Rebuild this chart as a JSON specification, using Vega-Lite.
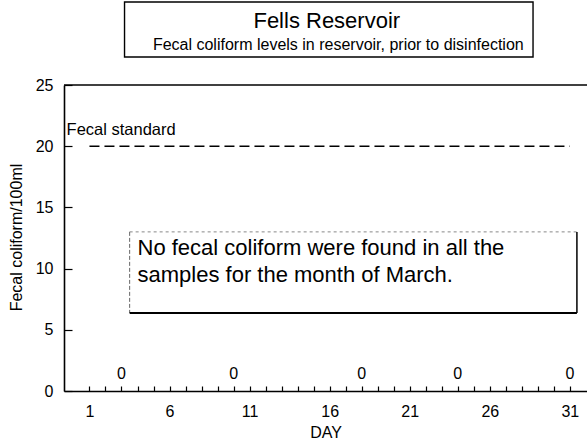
{
  "$schema": "https://vega.github.io/schema/vega-lite/v6.json",
  "width": 523,
  "height": 306,
  "autosize": {"type": "none"},
  "padding": {"left": 64, "top": 85, "right": 0, "bottom": 49},
  "background": "white",
  "config": {
    "view": {"stroke": null},
    "font": "Liberation Sans",
    "text": {"font": "Liberation Sans", "color": "black"},
    "axis": {
      "domainColor": "black",
      "domainWidth": 1.6,
      "tickColor": "black",
      "tickWidth": 1.2,
      "grid": false,
      "labelColor": "black",
      "titleColor": "black",
      "labelFont": "Liberation Sans",
      "titleFont": "Liberation Sans",
      "labelFontSize": 16,
      "titleFontSize": 16,
      "titleFontWeight": "normal"
    }
  },
  "datasets": {
    "samples": [
      {"day": 3, "count": 0},
      {"day": 10, "count": 0},
      {"day": 18, "count": 0},
      {"day": 24, "count": 0},
      {"day": 31, "count": 0}
    ],
    "standard": [
      {"day": 1, "limit": 20},
      {"day": 31, "limit": 20}
    ],
    "note": [
      {"label": "annotation"}
    ]
  },
  "layer": [
    {
      "data": {"name": "standard"},
      "mark": {"type": "line", "color": "black", "strokeWidth": 1.6, "strokeDash": [10, 5]},
      "encoding": {
        "x": {
          "field": "day",
          "type": "quantitative",
          "scale": {"domain": [-0.59, 32.07], "nice": false, "zero": false},
          "axis": {
            "title": "DAY",
            "values": [1,2,3,4,5,6,7,8,9,10,11,12,13,14,15,16,17,18,19,20,21,22,23,24,25,26,27,28,29,30,31],
            "tickCount": 100,
            "format": "d",
            "labelExpr": "(datum.value - 1) % 5 == 0 ? datum.label : ''",
            "tickSize": -5,
            "labelPadding": 17,
            "labelBaseline": "top",
            "titleY": 46,
            "titleBaseline": "alphabetic",
            "labelFlush": false,
            "labelOverlap": false
          }
        },
        "y": {
          "field": "limit",
          "type": "quantitative",
          "scale": {"domain": [0, 25], "nice": false},
          "axis": {
            "title": "Fecal coliform/100ml",
            "values": [0, 5, 10, 15, 20, 25],
            "tickCount": 20,
            "tickSize": -8,
            "labelPadding": 19,
            "titleX": -48,
            "titleY": 152,
            "titleAngle": -90,
            "titleAlign": "center",
            "titleBaseline": "middle"
          }
        }
      }
    },
    {
      "data": {"name": "note"},
      "mark": {"type": "rule", "color": "black", "strokeWidth": 1.6},
      "encoding": {"y": {"datum": 25}}
    },
    {
      "data": {"name": "samples"},
      "mark": {"type": "text", "fontSize": 16, "baseline": "alphabetic", "align": "center", "dy": -12},
      "encoding": {
        "x": {"field": "day", "type": "quantitative"},
        "y": {"field": "count", "type": "quantitative"},
        "text": {"field": "count", "type": "quantitative"}
      }
    },
    {
      "data": {"name": "note"},
      "mark": {"type": "text", "fontSize": 16.5, "align": "left", "baseline": "alphabetic"},
      "encoding": {"x": {"datum": -0.43}, "y": {"datum": 20.92}, "text": {"value": "Fecal standard"}}
    },
    {
      "data": {"name": "note"},
      "mark": {"type": "rect", "fill": "white", "stroke": "black", "strokeWidth": 1.4},
      "encoding": {"x": {"datum": 3.19}, "x2": {"datum": 28.7}, "y": {"datum": 31.78}, "y2": {"datum": 27.29}}
    },
    {
      "data": {"name": "note"},
      "mark": {"type": "text", "fontSize": 22, "align": "center", "baseline": "alphabetic"},
      "encoding": {"x": {"datum": 15.82}, "y": {"datum": 29.66}, "text": {"value": "Fells Reservoir"}}
    },
    {
      "data": {"name": "note"},
      "mark": {"type": "text", "fontSize": 16, "align": "center", "baseline": "alphabetic"},
      "encoding": {"x": {"datum": 16.54}, "y": {"datum": 27.86}, "text": {"value": "Fecal coliform levels in reservoir, prior to disinfection"}}
    },
    {
      "data": {"name": "note"},
      "mark": {"type": "rule", "color": "#888888", "strokeWidth": 1, "strokeDash": [3, 3]},
      "encoding": {"x": {"datum": 3.51}, "x2": {"datum": 31.44}, "y": {"datum": 13.0}}
    },
    {
      "data": {"name": "note"},
      "mark": {"type": "rule", "color": "#666666", "strokeWidth": 1, "strokeDash": [4, 2]},
      "encoding": {"x": {"datum": 3.51}, "y": {"datum": 13.0}, "y2": {"datum": 6.37}}
    },
    {
      "data": {"name": "note"},
      "mark": {"type": "rule", "color": "black", "strokeWidth": 1.5},
      "encoding": {"x": {"datum": 31.44}, "y": {"datum": 13.0}, "y2": {"datum": 6.37}}
    },
    {
      "data": {"name": "note"},
      "mark": {"type": "rule", "color": "black", "strokeWidth": 2},
      "encoding": {"x": {"datum": 3.51}, "x2": {"datum": 31.44}, "y": {"datum": 6.37}}
    },
    {
      "data": {"name": "note"},
      "mark": {"type": "text", "fontSize": 22, "align": "left", "baseline": "alphabetic", "lineHeight": 27},
      "encoding": {"x": {"datum": 4.0}, "y": {"datum": 11.15}, "text": {"value": ["No fecal coliform were found in all the", "samples for the month of March."]}}
    }
  ]
}
